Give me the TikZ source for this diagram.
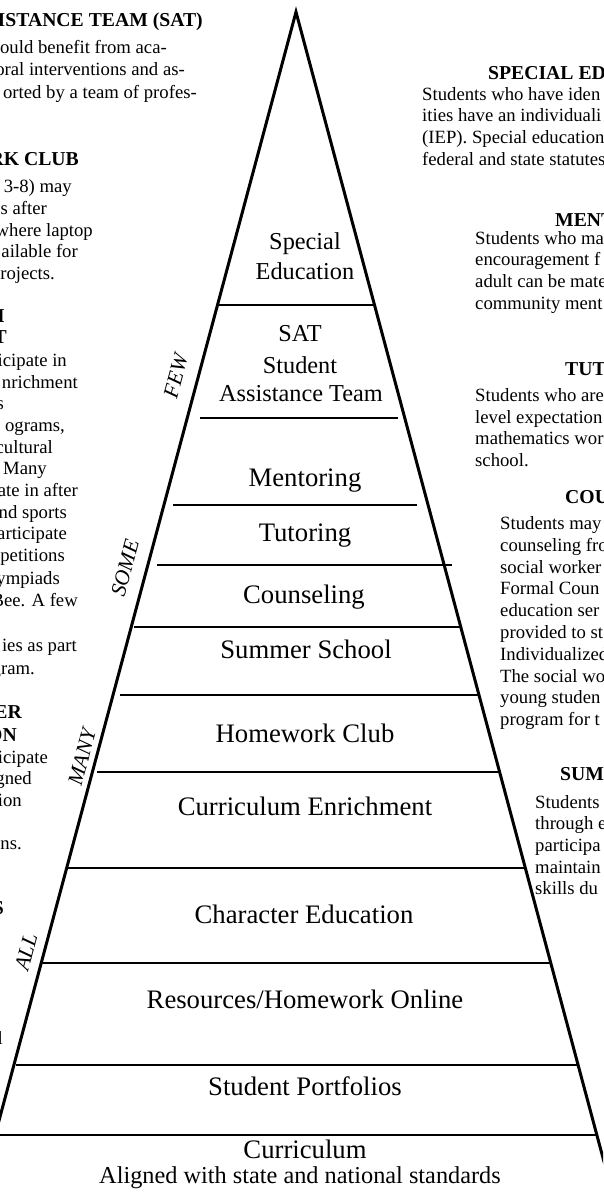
\documentclass[tikz,border=0pt]{standalone}
\usepackage{fontspec}
\setmainfont{Liberation Serif}
\begin{document}
\begin{tikzpicture}[x=1pt,y=-1pt,every node/.style={inner sep=0pt},
  tier/.style={font=\fontsize{26.7}{30}\selectfont,anchor=base},
  tiersm/.style={font=\fontsize{24.3}{28}\selectfont,anchor=base},
  body/.style={font=\fontsize{18.7}{21.8}\selectfont},
  head/.style={font=\fontsize{19.7}{22}\selectfont\bfseries},
  share/.style={font=\fontsize{21.5}{24}\selectfont\itshape,rotate=75}]
  \useasboundingbox (0,0) rectangle (603,1199);
  \clip (0,0) rectangle (603,1199);

  % Pyramid outline
  \coordinate (apex) at (296,12);
  \draw[line width=3pt,line join=miter] (-22,1199) -- (apex) -- (614,1199);

  % Tier lines
  \foreach \y/\xl/\xr in {305/218/374,418/200/398,505/173/417,565/157/452,
      627/134/460,695/120/478,772/97/500,868/68/526,963/42/551,
      1065/16/578,1135/-5/597}
    \draw[line width=1.8pt] (\xl,\y) -- (\xr,\y);

  % Tier labels
  \node[tiersm] (spec1) at (305,249) {Special};
  \node[tiersm] (spec2) at (305,279) {Education};
  \node[tiersm] (sat1) at (300,341) {SAT};
  \node[tiersm] (sat2) at (300,373) {Student};
  \node[tiersm] (sat3) at (301,401) {Assistance Team};
  \node[tier] (mentor) at (305,486) {Mentoring};
  \node[tier] (tutor) at (305,541) {Tutoring};
  \node[tier] (counsel) at (304,603) {Counseling};
  \node[tier] (summer) at (306,658) {Summer School};
  \node[tier] (homework) at (305,742) {Homework Club};
  \node[tier] (enrich) at (305,815) {Curriculum Enrichment};
  \node[tier] (character) at (304,923) {Character Education};
  \node[tier] (online) at (305,1008) {Resources/Homework Online};
  \node[tier] (portfolio) at (305,1095) {Student Portfolios};
  \node[tier] (curric) at (305,1158) {Curriculum};
  \node[tiersm] (aligned) at (300,1183) {Aligned with state and national standards};

  % How many students
  \node[share] (few) at (176,376) {FEW};
  \node[share] (some) at (125,568) {SOME};
  \node[share] (many) at (82,757) {MANY};
  \node[share] (all) at (26,952) {ALL};

  % Left column (cut at the page edge)
  \foreach \xe/\yb/\t in {203/27/{ISTANCE TEAM (SAT)},79/165/{RK CLUB},
      5/322/M,7/343/T,22/718/ER,17/741/ON,4/914/S}
    \node[head,anchor=base east] at (\xe,\yb) {\t};
  \foreach \xe/\yb/\t in {167/54/{ould benefit from aca-},
      185/76/{oral interventions and as-},197/98/{orted by a team of profes-},
      72/192/{3-8) may},47/214/{s after},93/236/{where laptop},
      78/257/{ailable for},55/279/{rojects.},
      67/366/{icipate in},78/388/{nrichment},4/409/{s},65/431/{ograms,},
      53/453/{cultural},47/474/{Many},78/496/{ate in after},67/518/{nd sports},
      67/539/{articipate},65/561/{petitions},60/584/{ympiads},78/606/{Bee. A few},
      77/651/{ies as part},35/674/{gram.},
      48/763/{icipate},32/784/{gned},22/806/{ion},22/849/{ns.},3/1044/{l}}
    \node[body,anchor=base east] at (\xe,\yb) {\t};

  % Right column (cut at the page edge)
  \foreach \xs/\yb/\t in {488/80/{SPECIAL EDU},555/226/{MENTO},565/375/{TUTO},
      565/503/{COUN},560/780/{SUMM}}
    \node[head,anchor=base west] at (\xs,\yb) {\t};
  \foreach \xs/\yb/\t in {422/100/{Students who have iden},
      422/121.7/{ities have an individuali},422/143.4/{(IEP). Special education},
      422/165/{federal and state statutes},
      475/244/{Students who ma},475/265.7/{encouragement f},
      475/287.4/{adult can be mate},475/309/{community ment},
      475/401/{Students who are},475/423/{level expectation},
      475/444/{mathematics wor},475/466/{school.},
      500/529/{Students may},500/551/{counseling fro},500/573/{social worker},
      500/594/{Formal Coun},500/616/{education ser},500/638/{provided to st},
      500/660/{Individualized},500/682/{The social wo},500/703/{young studen},
      500/725/{program for t},
      535/808/{Students},535/829/{through e},535/851/{participa},
      535/873/{maintain},535/894/{skills du}}
    \node[body,anchor=base west] at (\xs,\yb) {\t};
\end{tikzpicture}
\end{document}
